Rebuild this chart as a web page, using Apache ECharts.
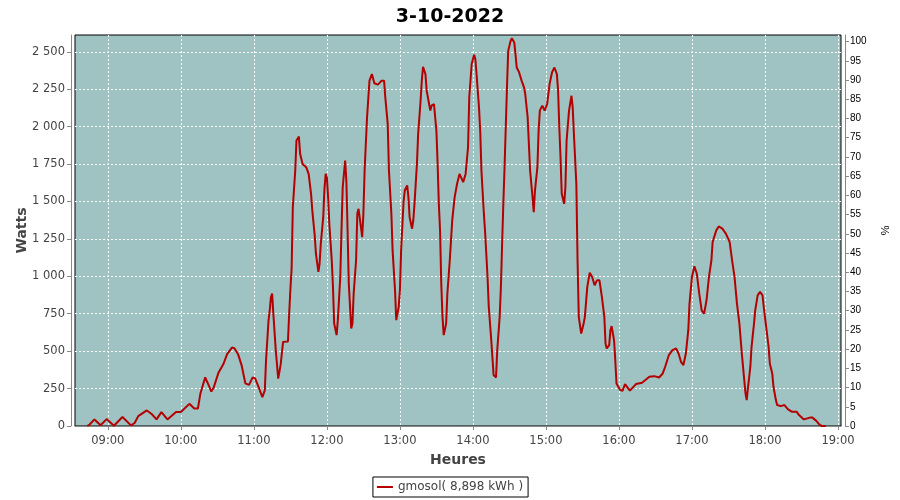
<!DOCTYPE html>
<html>
<head>
<meta charset="utf-8">
<script src="https://cdn.jsdelivr.net/npm/echarts@6/dist/echarts.min.js"></script>
<style>html,body{margin:0;padding:0;background:#fff}#c{width:900px;height:500px}</style>
</head>
<body>
<div id="c"></div>
<script>
var chartTitle = "3-10-2022";
var seriesName = "gmosol( 8,898 kWh )";
var times = ["08:43","08:45","08:49","08:54","08:59","09:05","09:12","09:19","09:22","09:25","09:32","09:36","09:40","09:44","09:49","09:56","10:00","10:07","10:11","10:14","10:16","10:20","10:23","10:25","10:27","10:31","10:35","10:38","10:42","10:44","10:47","10:50","10:53","10:56","10:59","11:01","11:04","11:07","11:09","11:10","11:12","11:13","11:14","11:15","11:16","11:18","11:20","11:22","11:24","11:28","11:29","11:30","11:31","11:32","11:34","11:35","11:37","11:38","11:40","11:43","11:45","11:47","11:48","11:50","11:51","11:53","11:54","11:55","11:57","11:58","11:59","12:00","12:01","12:02","12:04","12:05","12:06","12:08","12:09","12:11","12:12","12:13","12:15","12:16","12:17","12:18","12:20","12:21","12:22","12:24","12:25","12:26","12:28","12:29","12:30","12:31","12:33","12:35","12:37","12:39","12:42","12:45","12:47","12:48","12:50","12:51","12:53","12:54","12:55","12:56","12:57","12:59","13:00","13:01","13:03","13:04","13:06","13:07","13:08","13:10","13:11","13:12","13:14","13:15","13:17","13:18","13:19","13:21","13:22","13:24","13:25","13:26","13:28","13:30","13:31","13:32","13:33","13:34","13:35","13:36","13:38","13:39","13:41","13:43","13:45","13:47","13:49","13:50","13:52","13:54","13:56","13:57","13:59","14:01","14:02","14:03","14:05","14:06","14:07","14:09","14:10","14:12","14:13","14:15","14:16","14:17","14:19","14:20","14:22","14:23","14:24","14:25","14:26","14:27","14:28","14:29","14:31","14:32","14:34","14:35","14:36","14:38","14:40","14:42","14:43","14:45","14:46","14:47","14:49","14:50","14:51","14:53","14:54","14:55","14:57","14:59","15:01","15:03","15:05","15:07","15:09","15:10","15:11","15:12","15:13","15:15","15:16","15:17","15:19","15:21","15:22","15:23","15:25","15:26","15:27","15:29","15:31","15:32","15:34","15:36","15:38","15:40","15:42","15:44","15:46","15:48","15:49","15:50","15:52","15:53","15:54","15:56","15:57","15:58","16:01","16:03","16:05","16:09","16:14","16:19","16:25","16:29","16:33","16:36","16:38","16:41","16:44","16:47","16:49","16:51","16:53","16:55","16:57","16:58","17:00","17:02","17:04","17:06","17:08","17:10","17:12","17:14","17:16","17:17","17:20","17:22","17:25","17:28","17:31","17:33","17:35","17:37","17:39","17:41","17:43","17:44","17:45","17:46","17:48","17:49","17:51","17:52","17:54","17:56","17:58","17:59","18:01","18:03","18:04","18:06","18:07","18:09","18:10","18:13","18:16","18:19","18:22","18:26","18:28","18:32","18:37","18:39","18:42","18:45","18:47","18:50"];
var watts = [0,10,44,5,46,2,60,4,20,66,104,80,44,93,44,93,93,148,117,117,215,325,270,230,258,358,414,480,524,520,480,403,285,275,325,318,258,192,240,440,700,770,860,884,750,505,316,410,562,565,750,912,1051,1462,1707,1907,1933,1818,1751,1729,1684,1551,1440,1273,1151,1029,1084,1218,1395,1584,1684,1660,1529,1351,1107,929,684,607,707,996,1307,1595,1773,1640,1307,951,651,684,884,1107,1418,1451,1329,1262,1418,1707,2062,2307,2351,2290,2280,2307,2307,2195,2018,1707,1418,1173,1040,907,707,796,907,1173,1496,1573,1607,1529,1395,1318,1373,1484,1751,1951,2173,2307,2400,2351,2240,2151,2107,2140,2151,1973,1751,1484,1307,951,729,607,684,884,1107,1373,1529,1618,1684,1680,1629,1684,1862,2195,2418,2480,2451,2351,2129,1973,1707,1420,1300,1000,800,584,462,340,324,507,729,929,1218,1484,1729,1995,2262,2506,2573,2591,2562,2484,2395,2362,2307,2262,2218,2062,1884,1707,1529,1429,1573,1729,1973,2107,2140,2107,2151,2284,2362,2395,2351,2240,1995,1795,1551,1484,1595,1907,2107,2206,2129,1951,1618,1107,729,618,684,729,929,1024,996,940,973,973,862,729,551,518,540,640,667,573,440,284,240,236,280,236,280,289,329,333,324,351,396,473,507,518,484,429,407,484,640,818,996,1067,1018,884,773,751,840,996,1107,1229,1307,1333,1318,1284,1229,1107,996,818,684,484,307,218,173,251,396,529,684,773,873,896,873,796,662,529,418,351,262,173,140,133,140,111,96,96,73,44,56,56,36,7,0,0];
var xTickLabels = ["09:00","10:00","11:00","12:00","13:00","14:00","15:00","16:00","17:00","18:00","19:00"];
var wattTicks = [0,250,500,750,1000,1250,1500,1750,2000,2250,2500];
var pctTicks = [0,5,10,15,20,25,30,35,40,45,50,55,60,65,70,75,80,85,90,95,100];

function toMin(s){var p=s.split(":");return (+p[0])*60+(+p[1]);}
function fmtTime(v){var h=Math.floor(v/60),m=Math.round(v-h*60);return (h<10?"0":"")+h+":"+(m<10?"0":"")+m;}
function fmtW(v){if(v>=1000){var r=String(v%1000);while(r.length<3)r="0"+r;return Math.floor(v/1000)+" "+r;}return String(v);}

var xTicks = xTickLabels.map(toMin);
var data = times.map(function(t,i){return [toMin(t), watts[i]];});

var chart = echarts.init(document.getElementById('c'), null, {renderer:'canvas'});
var font = "DejaVu Sans";
chart.setOption({
  animation:false,
  backgroundColor:'#ffffff',
  title:{text:chartTitle,left:'center',top:3,textStyle:{fontFamily:font,fontSize:19,fontWeight:'bold',color:'#000'}},
  grid:{left:75,right:59,top:35,bottom:74,show:true,backgroundColor:'#9ec3c2',borderColor:'#000',borderWidth:1},
  legend:{data:[{name:seriesName,icon:'rect'}],left:'center',top:477,borderColor:'#000',borderWidth:1,padding:[4,5,4,4],itemWidth:16,itemHeight:2,itemGap:4,
    textStyle:{fontFamily:font,fontSize:12,color:'#444'}},
  xAxis:{type:'value',min:513,max:1142.5,offset:4,
    name:'Heures',nameLocation:'middle',nameGap:23,nameTextStyle:{fontFamily:font,fontSize:14,fontWeight:'bold',color:'#444'},
    axisLine:{show:true,lineStyle:{color:'#888',width:1}},
    axisTick:{show:true,length:4,customValues:xTicks,lineStyle:{color:'#888'}},
    axisLabel:{customValues:xTicks,formatter:function(v){return fmtTime(v);},fontFamily:font,fontSize:11.5,color:'#444',margin:5},
    splitLine:{show:true,lineStyle:{color:'#fff',type:[2,2],width:1}}
  },
  yAxis:[{type:'value',min:0,max:2612,position:'left',offset:4,
    name:'Watts',nameLocation:'middle',nameGap:42,nameMoveOverlap:false,nameTextStyle:{fontFamily:font,fontSize:14,fontWeight:'bold',color:'#444'},
    axisLine:{show:true,lineStyle:{color:'#888',width:1}},
    axisTick:{show:true,length:4,customValues:wattTicks,lineStyle:{color:'#888'}},
    axisLabel:{customValues:wattTicks,formatter:function(v){return fmtW(v);},fontFamily:font,fontSize:11.5,color:'#444',margin:6},
    splitLine:{show:true,lineStyle:{color:'#fff',type:[2,2],width:1}}
  },{type:'value',min:0,max:101.7,position:'right',offset:4,
    name:'%',nameLocation:'middle',nameGap:34,nameRotate:-90,nameTextStyle:{fontFamily:'Liberation Sans',fontSize:11,color:'#000'},
    axisLine:{show:true,lineStyle:{color:'#888',width:1}},
    axisTick:{show:true,length:4,customValues:pctTicks,lineStyle:{color:'#888'}},
    axisLabel:{customValues:pctTicks,fontFamily:'Liberation Sans',fontSize:10,color:'#000',margin:5},
    splitLine:{show:false}
  }],
  series:[{name:seriesName,type:'line',data:data,yAxisIndex:0,symbol:'none',smooth:false,
    lineStyle:{color:'#b40000',width:2},itemStyle:{color:'#b40000'}}]
});
</script>
</body>
</html>
